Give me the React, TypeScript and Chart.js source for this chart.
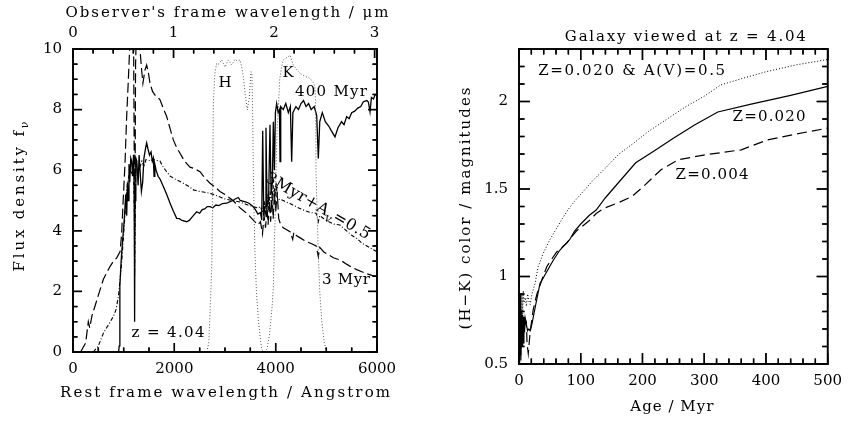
import React, { useEffect, useRef } from "react";
import { Chart, registerables } from "chart.js";
Chart.register(...registerables);

const FONT = "'DejaVu Serif', serif";

// ---------- data: left panel (spectra) ----------
const redshift = 4.04;
const restTicks = [0, 2000, 4000, 6000];
const obsTicks = [0, 1, 2, 3];
const fluxTicks = [0, 2, 4, 6, 8, 10];

const old400Wave = [900, 912, 925, 950, 975, 1000, 1020, 1040, 1060, 1075, 1090, 1105, 1120, 1140, 1158, 1175, 1195, 1208, 1216, 1224, 1240, 1260, 1285, 1305, 1330, 1350, 1375, 1400, 1430, 1454, 1480, 1510, 1540, 1565, 1585, 1600, 1615, 1640, 1680, 1720, 1783, 1850, 1914, 1980, 2046, 2100, 2150, 2244, 2300, 2350, 2400, 2441, 2500, 2550, 2600, 2650, 2704, 2760, 2820, 2880, 2950, 3033, 3100, 3160, 3200, 3263, 3300, 3350, 3420, 3480, 3553, 3600, 3650, 3700, 3725, 3744, 3765, 3790, 3809, 3830, 3860, 3888, 3910, 3935, 3954, 3975, 3995, 4020, 4050, 4075, 4086, 4100, 4150, 4200, 4250, 4290, 4316, 4340, 4400, 4450, 4500, 4550, 4600, 4650, 4700, 4760, 4810, 4842, 4870, 4920, 4980, 5050, 5100, 5171, 5230, 5300, 5350, 5401, 5450, 5500, 5560, 5620, 5680, 5730, 5800, 5830, 5862, 5890, 5930, 5960, 6000];
const old400Flux = [0, 0.2, 2.2, 3.0, 3.6, 4.1, 4.6, 5.2, 4.5, 5.6, 5.0, 6.2, 5.6, 6.4, 6.3, 5.8, 6.5, 5.5, 1.0, 5.0, 6.4, 6.3, 5.5, 6.5, 5.8, 5.3, 5.6, 6.4, 6.7, 6.9, 6.7, 6.5, 6.6, 6.3, 6.4, 5.8, 6.2, 6.0, 5.8, 5.7, 5.46, 5.2, 4.92, 4.65, 4.41, 4.4, 4.34, 4.3, 4.35, 4.45, 4.55, 4.63, 4.58, 4.7, 4.72, 4.8, 4.8, 4.76, 4.85, 4.83, 4.9, 4.91, 4.96, 5.0, 5.05, 5.1, 5.0, 4.98, 4.95, 4.9, 4.8, 4.7, 4.55, 4.6, 4.35, 7.3, 4.5, 4.8, 7.4, 4.8, 5.0, 7.5, 5.2, 5.6, 7.6, 6.0, 7.9, 8.2, 7.9, 8.0, 6.28, 8.1, 8.0, 8.2, 7.9, 8.1, 6.28, 7.9, 8.1, 8.0, 8.2, 8.3, 8.1, 8.2, 8.0, 8.1, 7.8, 6.39, 7.6, 7.9, 7.6, 7.45, 7.3, 7.1, 7.4, 7.6, 7.5, 7.77, 7.7, 7.9, 7.95, 8.05, 8.1, 8.26, 8.3, 8.25, 7.93, 8.4, 8.35, 8.48, 8.5];

const young3Wave = [150, 250, 302, 330, 375, 450, 533, 600, 660, 730, 800, 860, 928, 960, 990, 1026, 1060, 1092, 1125, 1160, 1195, 1210, 1216, 1224, 1235, 1250, 1290, 1322, 1355, 1380, 1420, 1454, 1490, 1520, 1570, 1618, 1680, 1717, 1780, 1849, 1920, 1980, 2046, 2112, 2200, 2309, 2400, 2507, 2600, 2704, 2800, 2900, 3000, 3158, 3300, 3450, 3553, 3650, 3700, 3740, 3770, 3800, 3830, 3850, 3880, 3900, 3930, 3950, 3980, 4000, 4030, 4060, 4100, 4150, 4200, 4283, 4336, 4360, 4400, 4500, 4600, 4700, 4800, 4842, 4870, 4950, 5050, 5150, 5270, 5400, 5500, 5600, 5700, 5800, 5900, 5994];
const young3Flux = [0, 0.3, 1.0, 0.8, 1.2, 1.6, 2.05, 2.4, 2.6, 2.82, 3.0, 3.1, 3.31, 3.9, 5.0, 6.2, 7.8, 8.97, 10.3, 11, 10.5, 6.0, 4.0, 5.0, 9.5, 10.5, 10.2, 10.0, 9.3, 8.87, 9.3, 9.47, 9.2, 8.87, 8.6, 8.48, 8.4, 8.32, 8.05, 7.77, 7.35, 7.0, 6.75, 6.56, 6.3, 6.1, 6.05, 5.95, 5.75, 5.57, 5.45, 5.3, 5.2, 5.0, 4.75, 4.55, 4.36, 4.2, 4.3, 3.9, 4.5, 4.1, 4.8, 4.2, 5.0, 4.3, 5.2, 4.4, 5.4, 4.6, 5.3, 4.4, 4.2, 4.1, 4.05, 3.97, 3.72, 3.95, 3.85, 3.75, 3.65, 3.58, 3.5, 3.15, 3.45, 3.3, 3.2, 3.1, 3.04, 2.9, 2.8, 2.72, 2.65, 2.58, 2.53, 2.49];

const dusty3Wave = [401, 500, 599, 700, 796, 850, 895, 930, 961, 1000, 1030, 1059, 1090, 1125, 1160, 1195, 1210, 1216, 1224, 1240, 1280, 1320, 1360, 1400, 1440, 1487, 1530, 1580, 1618, 1660, 1717, 1780, 1849, 1920, 2046, 2150, 2300, 2375, 2500, 2600, 2704, 2850, 3000, 3158, 3300, 3450, 3553, 3650, 3700, 3740, 3770, 3800, 3830, 3860, 3890, 3920, 3950, 3980, 4010, 4040, 4080, 4150, 4200, 4283, 4400, 4500, 4600, 4700, 4800, 4842, 4870, 4950, 5050, 5150, 5270, 5400, 5500, 5600, 5700, 5800, 5900, 6000];
const dusty3Flux = [0, 0.2, 0.62, 0.9, 1.17, 1.4, 1.83, 2.4, 2.93, 3.9, 4.6, 5.35, 5.7, 6.0, 5.9, 6.0, 4.5, 2.5, 4.0, 6.0, 5.8, 6.1, 6.3, 6.1, 6.35, 6.34, 6.3, 6.36, 6.34, 6.32, 6.3, 6.1, 5.95, 5.8, 5.68, 5.6, 5.45, 5.35, 5.3, 5.27, 5.24, 5.15, 5.05, 5.0, 4.95, 4.85, 4.8, 4.75, 4.8, 4.6, 5.0, 4.6, 5.2, 4.7, 5.3, 4.8, 5.5, 4.9, 5.6, 5.0, 5.05, 5.0, 4.95, 4.9, 4.8, 4.72, 4.65, 4.6, 4.58, 4.3, 4.5, 4.4, 4.3, 4.22, 4.19, 4.0, 3.85, 3.75, 3.6, 3.5, 3.4, 3.31];

const hBandWave = [2640, 2680, 2710, 2737, 2755, 2770, 2800, 2836, 2880, 2935, 3000, 3066, 3132, 3197, 3250, 3296, 3330, 3362, 3400, 3441, 3480, 3513, 3530, 3545, 3559, 3575, 3592, 3620, 3658, 3700, 3724, 3760];
const hBandResp = [0, 0.3, 1.5, 2.7, 5.0, 8.2, 9.2, 9.53, 9.5, 9.64, 9.4, 9.64, 9.47, 9.66, 9.6, 9.64, 9.4, 9.09, 8.5, 7.99, 8.4, 9.25, 9.2, 8.0, 6.0, 4.5, 3.26, 2.0, 1.06, 0.4, 0.1, 0];

const kBandWave = [3780, 3830, 3880, 3930, 3954, 3987, 4007, 4030, 4053, 4080, 4118, 4151, 4200, 4250, 4283, 4320, 4349, 4400, 4480, 4580, 4678, 4740, 4776, 4790, 4796, 4820, 4842, 4870, 4908, 4960, 5007, 5050];
const kBandResp = [0, 0.1, 0.6, 1.5, 2.16, 4.36, 6.0, 7.5, 8.0, 9.0, 9.42, 9.64, 9.7, 9.75, 9.8, 9.6, 9.47, 9.35, 9.2, 9.1, 9.03, 8.9, 8.76, 8.0, 6.0, 4.5, 3.26, 2.0, 1.06, 0.3, 0, 0];

// ---------- data: right panel (H-K colour vs age) ----------
const ageTicks = [0, 100, 200, 300, 400, 500];
const colorTicks = [0.5, 1, 1.5, 2];

const solarAge = [1, 2, 3, 4, 5, 6, 7, 8, 9, 10, 12, 14, 16, 18, 21, 26, 34, 39, 47, 55, 66, 82, 90, 100, 114, 125, 140, 162, 189, 220, 250, 285, 322, 376, 440, 500];
const solarColor = [0.55, 0.9, 0.52, 0.8, 0.6, 0.78, 0.62, 0.77, 0.68, 0.76, 0.72, 0.69, 0.7, 0.69, 0.73, 0.82, 0.96, 0.99, 1.04, 1.09, 1.15, 1.21, 1.26, 1.3, 1.35, 1.38, 1.45, 1.54, 1.65, 1.72, 1.79, 1.867, 1.94, 1.985, 2.035, 2.086];

const poorAge = [1, 2, 3, 4, 5, 6, 7, 8, 10, 12, 13, 15, 18, 23, 29, 37, 45, 55, 61, 77, 93, 114, 125, 138, 160, 183, 200, 230, 258, 301, 360, 402, 450, 500];
const poorColor = [0.5, 0.72, 0.55, 0.78, 0.6, 0.74, 0.66, 0.72, 0.76, 0.74, 0.62, 0.56, 0.68, 0.81, 0.9, 0.98, 1.056, 1.11, 1.14, 1.19, 1.26, 1.32, 1.36, 1.39, 1.42, 1.457, 1.51, 1.61, 1.667, 1.695, 1.724, 1.78, 1.815, 1.848];

const dustyAge = [2, 3, 4, 5, 6, 7, 8, 10, 12, 14, 16, 18, 21, 26, 31, 39, 50, 60, 70, 79, 90, 100, 120, 140, 162, 185, 210, 240, 270, 300, 327, 360, 400, 450, 500];
const dustyColor = [0.6, 0.82, 0.7, 0.9, 0.78, 0.92, 0.85, 0.88, 0.83, 0.9, 0.86, 0.84, 0.9, 0.96, 1.056, 1.13, 1.21, 1.27, 1.33, 1.38, 1.43, 1.47, 1.55, 1.62, 1.7, 1.76, 1.83, 1.9, 1.97, 2.03, 2.095, 2.13, 2.17, 2.21, 2.24];

// ---------- helpers ----------
const zip = (xs: number[], ys: number[]) => xs.map((x, i) => ({ x, y: ys[i] }));
const obsMax = (6000 * (1 + redshift)) / 10000;

type Seg = { t: string; sub?: boolean };
function drawText(
  ctx: CanvasRenderingContext2D,
  segs: Seg[],
  x: number,
  y: number,
  o: { size: number; width?: number; angle?: number; align?: "center" | "left" }
) {
  const size = o.size;
  const fMain = `${size}px ${FONT}`;
  const fSub = `${Math.round(size * 0.72)}px ${FONT}`;
  ctx.save();
  const widths = segs.map((s) => {
    ctx.font = s.sub ? fSub : fMain;
    return ctx.measureText(s.t).width;
  });
  const nChars = segs.reduce((a, s) => a + [...s.t].length, 0);
  const natural = widths.reduce((a, b) => a + b, 0);
  let sp = 0;
  if (o.width) sp = Math.max(-1, Math.min(6, (o.width - natural) / Math.max(1, nChars - 1)));
  const total = natural + sp * (nChars - 1);
  ctx.translate(x, y);
  ctx.rotate(o.angle || 0);
  let cx = o.align === "left" ? 0 : -total / 2;
  ctx.textBaseline = "middle";
  ctx.textAlign = "left";
  ctx.fillStyle = "#000";
  segs.forEach((s, i) => {
    ctx.font = s.sub ? fSub : fMain;
    let px = cx;
    const dy = s.sub ? size * 0.35 : 0;
    for (const ch of [...s.t]) {
      ctx.fillText(ch, px, dy);
      px += ctx.measureText(ch).width + sp;
    }
    cx += widths[i] + sp * [...s.t].length;
  });
  ctx.restore();
}

type TickSpec = { side: string; toPixel: (v: number) => number; lo: number; hi: number; minor: number; major: number; majLen: number; minLen: number };

// inward tick marks along the frame
function paintTicks(ctx: CanvasRenderingContext2D, ca: any, specs: TickSpec[]) {
  ctx.save();
  ctx.fillStyle = "#000";
  for (const s of specs) {
    const count = Math.round((s.hi - s.lo) / s.minor);
    for (let i = 0; i <= count; i++) {
      const v = s.lo + i * s.minor;
      if (v > s.hi + 1e-9) break;
      const r = v / s.major;
      const len = Math.abs(r - Math.round(r)) < 1e-6 ? s.majLen : s.minLen;
      const p = s.toPixel(v);
      if (s.side === "bottom") ctx.fillRect(p - 0.7, ca.bottom - len, 1.4, len);
      else if (s.side === "top") ctx.fillRect(p - 0.7, ca.top, 1.4, len);
      else if (s.side === "left") ctx.fillRect(ca.left, p - 0.7, len, 1.4);
      else ctx.fillRect(ca.right - len, p - 0.7, len, 1.4);
    }
  }
  // frame
  const w = 1.6;
  ctx.fillRect(ca.left - w / 2, ca.top - w / 2, ca.right - ca.left + w, w);
  ctx.fillRect(ca.left - w / 2, ca.bottom - w / 2, ca.right - ca.left + w, w);
  ctx.fillRect(ca.left - w / 2, ca.top - w / 2, w, ca.bottom - ca.top + w);
  ctx.fillRect(ca.right - w / 2, ca.top - w / 2, w, ca.bottom - ca.top + w);
  ctx.restore();
}

function leftSpecs(chart: any): TickSpec[] {
  const x = chart.scales.x, y = chart.scales.y;
  const px = (v: number) => x.getPixelForValue(v);
  const pobs = (v: number) => x.getPixelForValue((v * 10000) / (1 + redshift));
  const py = (v: number) => y.getPixelForValue(v);
  return [
    { side: "bottom", toPixel: px, lo: 0, hi: 6000, minor: 500, major: 2000, majLen: 9, minLen: 4.5 },
    { side: "top", toPixel: pobs, lo: 0, hi: obsMax, minor: 0.2, major: 1, majLen: 9, minLen: 4.5 },
    { side: "left", toPixel: py, lo: 0, hi: 10, minor: 0.5, major: 2, majLen: 9, minLen: 4.5 },
    { side: "right", toPixel: py, lo: 0, hi: 10, minor: 0.5, major: 2, majLen: 9, minLen: 4.5 },
  ];
}

function rightSpecs(chart: any): TickSpec[] {
  const x = chart.scales.x, y = chart.scales.y;
  const px = (v: number) => x.getPixelForValue(v);
  const py = (v: number) => y.getPixelForValue(v);
  return [
    { side: "bottom", toPixel: px, lo: 0, hi: 500, minor: 20, major: 100, majLen: 11, minLen: 5.5 },
    { side: "top", toPixel: px, lo: 0, hi: 500, minor: 20, major: 100, majLen: 11, minLen: 5.5 },
    { side: "left", toPixel: py, lo: 0.5, hi: 2.3, minor: 0.1, major: 0.5, majLen: 11, minLen: 5.5 },
    { side: "right", toPixel: py, lo: 0.5, hi: 2.3, minor: 0.1, major: 0.5, majLen: 11, minLen: 5.5 },
  ];
}

const tickFont = { family: FONT, size: 15 };

function fixedTicks(values: number[]) {
  return (s: any) => {
    s.ticks = values.map((v) => ({ value: v }));
  };
}

const leftDecor = {
  id: "leftDecor",
  afterDraw(chart: any) {
    const { ctx, chartArea: ca, scales } = chart;
    const x = scales.x, y = scales.y;
    const cxm = (ca.left + ca.right) / 2;
    const cym = (ca.top + ca.bottom) / 2;
    drawText(ctx, [{ t: "Observer's frame wavelength / μm" }], cxm + 2, ca.top - 36, { size: 15, width: 323 });
    drawText(ctx, [{ t: "Rest frame wavelength / Angstrom" }], cxm, ca.bottom + 41, { size: 15, width: 330 });
    drawText(ctx, [{ t: "Flux density f" }, { t: "ν", sub: true }], ca.left - 53, cym - 4, { size: 15, width: 150, angle: -Math.PI / 2 });
    const P = (vx: number, vy: number) => [x.getPixelForValue(vx), y.getPixelForValue(vy)];
    let [a, b] = P(3000, 8.88);
    drawText(ctx, [{ t: "H" }], a, b, { size: 15 });
    [a, b] = P(4243, 9.2);
    drawText(ctx, [{ t: "K" }], a, b, { size: 15 });
    [a, b] = P(5092, 8.58);
    drawText(ctx, [{ t: "400 Myr" }], a, b, { size: 15, width: 72 });
    [a, b] = P(5388, 2.38);
    drawText(ctx, [{ t: "3 Myr" }], a, b, { size: 15, width: 48 });
    [a, b] = P(1875, 0.63);
    drawText(ctx, [{ t: "z = 4.04" }], a, b, { size: 15, width: 73 });
    [a, b] = P(4830, 4.8);
    drawText(ctx, [{ t: "3Myr+A" }, { t: "v", sub: true }, { t: "=0.5" }], a, b, { size: 16, width: 118, angle: (30 * Math.PI) / 180 });
    paintTicks(ctx, ca, leftSpecs(chart));
  },
};

const rightDecor = {
  id: "rightDecor",
  afterDraw(chart: any) {
    const { ctx, chartArea: ca, scales } = chart;
    const x = scales.x, y = scales.y;
    const cxm = (ca.left + ca.right) / 2;
    const cym = (ca.top + ca.bottom) / 2;
    drawText(ctx, [{ t: "Galaxy viewed at z = 4.04" }], cxm + 12, ca.top - 12, { size: 15, width: 241 });
    drawText(ctx, [{ t: "Age / Myr" }], cxm - 1.5, ca.bottom + 43, { size: 15, width: 83 });
    drawText(ctx, [{ t: "(H−K) color / magnitudes" }], ca.left - 53, cym + 2, { size: 15, width: 242, angle: -Math.PI / 2 });
    const P = (vx: number, vy: number) => [x.getPixelForValue(vx), y.getPixelForValue(vy)];
    let [a, b] = P(31, 2.175);
    drawText(ctx, [{ t: "Z=0.020 & A(V)=0.5" }], a, b, { size: 15, width: 187, align: "left" });
    [a, b] = P(346, 1.913);
    drawText(ctx, [{ t: "Z=0.020" }], a, b, { size: 15, width: 73, align: "left" });
    [a, b] = P(253.6, 1.58);
    drawText(ctx, [{ t: "Z=0.004" }], a, b, { size: 15, width: 73, align: "left" });
    paintTicks(ctx, ca, rightSpecs(chart));
  },
};

function makeLeft(canvas: HTMLCanvasElement) {
  return new Chart(canvas, {
    type: "line",
    data: {
      datasets: [
        { data: zip(hBandWave, hBandResp), borderColor: "#555", borderWidth: 1, borderDash: [1, 2] },
        { data: zip(kBandWave, kBandResp), borderColor: "#555", borderWidth: 1, borderDash: [1, 2] },
        { data: zip(young3Wave, young3Flux), borderColor: "#000", borderWidth: 1.2, borderDash: [10, 4] },
        { data: zip(dusty3Wave, dusty3Flux), borderColor: "#000", borderWidth: 1.1, borderDash: [4, 2, 1, 2] },
        { data: zip(old400Wave, old400Flux), borderColor: "#000", borderWidth: 1.3 },
      ] as any,
    },
    options: {
      animation: false,
      responsive: false,
      layout: { padding: { left: 0, top: 0, right: 48, bottom: 0 } },
      elements: { point: { radius: 0 }, line: { tension: 0, fill: false } },
      plugins: { legend: { display: false }, tooltip: { enabled: false } },
      scales: {
        x: {
          type: "linear", position: "bottom", min: 0, max: 6000,
          grid: { display: false, drawTicks: false }, border: { display: false },
          ticks: { font: tickFont, color: "#000", padding: 8, maxRotation: 0, callback: (v: any) => String(v) },
          afterBuildTicks: fixedTicks(restTicks),
          afterFit: (s: any) => { s.height = 69; },
        },
        x2: {
          type: "linear", position: "top", min: 0, max: obsMax,
          grid: { display: false, drawTicks: false }, border: { display: false },
          ticks: { font: tickFont, color: "#000", padding: 7, maxRotation: 0, callback: (v: any) => String(v) },
          afterBuildTicks: fixedTicks(obsTicks),
          afterFit: (s: any) => { s.height = 49; },
        },
        y: {
          type: "linear", position: "left", min: 0, max: 10,
          grid: { display: false, drawTicks: false }, border: { display: false },
          ticks: { font: tickFont, color: "#000", padding: 11, callback: (v: any) => String(v) },
          afterBuildTicks: fixedTicks(fluxTicks),
          afterFit: (s: any) => { s.width = 73; },
        },
      },
    } as any,
    plugins: [leftDecor],
  });
}

function makeRight(canvas: HTMLCanvasElement) {
  return new Chart(canvas, {
    type: "line",
    data: {
      datasets: [
        { data: zip(dustyAge, dustyColor), borderColor: "#000", borderWidth: 1, borderDash: [1, 2] },
        { data: zip(poorAge, poorColor), borderColor: "#000", borderWidth: 1.2, borderDash: [10, 5] },
        { data: zip(solarAge, solarColor), borderColor: "#000", borderWidth: 1.2 },
      ] as any,
    },
    options: {
      animation: false,
      responsive: false,
      layout: { padding: { left: 0, top: 49, right: 19, bottom: 0 } },
      elements: { point: { radius: 0 }, line: { tension: 0, fill: false } },
      plugins: { legend: { display: false }, tooltip: { enabled: false } },
      scales: {
        x: {
          type: "linear", position: "bottom", min: 0, max: 500,
          grid: { display: false, drawTicks: false }, border: { display: false },
          ticks: { font: tickFont, color: "#000", padding: 8, maxRotation: 0, callback: (v: any) => String(v) },
          afterBuildTicks: fixedTicks(ageTicks),
          afterFit: (s: any) => { s.height = 57; },
        },
        y: {
          type: "linear", position: "left", min: 0.5, max: 2.3,
          grid: { display: false, drawTicks: false }, border: { display: false },
          ticks: { font: tickFont, color: "#000", padding: 11, callback: (v: any) => String(v) },
          afterBuildTicks: fixedTicks(colorTicks),
          afterFit: (s: any) => { s.width = 94; },
        },
      },
    } as any,
    plugins: [rightDecor],
  });
}

export default function App() {
  const leftRef = useRef<HTMLCanvasElement>(null);
  const rightRef = useRef<HTMLCanvasElement>(null);
  const leftOver = useRef<HTMLCanvasElement>(null);
  const rightOver = useRef<HTMLCanvasElement>(null);
  useEffect(() => {
    const l = makeLeft(leftRef.current!);
    const r = makeRight(rightRef.current!);
    // overlay layer with the same tick marks, taken from the charts' own scales
    const pairs: [Chart, HTMLCanvasElement | null, (c: any) => TickSpec[]][] = [
      [l, leftOver.current, leftSpecs],
      [r, rightOver.current, rightSpecs],
    ];
    for (const [chart, over, specs] of pairs) {
      if (!over) continue;
      const octx = over.getContext("2d");
      if (!octx) continue;
      octx.clearRect(0, 0, over.width, over.height);
      paintTicks(octx, (chart as any).chartArea, specs(chart));
    }
    return () => {
      l.destroy();
      r.destroy();
    };
  }, []);
  const cs = (left: number): React.CSSProperties => ({ position: "absolute", left, top: 0, width: 425, height: 421 });
  return (
    <div style={{ position: "fixed", left: 0, top: 0, width: 850, height: 421, background: "#fff" }}>
      <canvas ref={leftRef} width={425} height={421} style={cs(0)} />
      <canvas ref={rightRef} width={425} height={421} style={cs(425)} />
      <canvas ref={leftOver} width={425} height={421} style={{ ...cs(0), pointerEvents: "none" }} />
      <canvas ref={rightOver} width={425} height={421} style={{ ...cs(425), pointerEvents: "none" }} />
    </div>
  );
}
